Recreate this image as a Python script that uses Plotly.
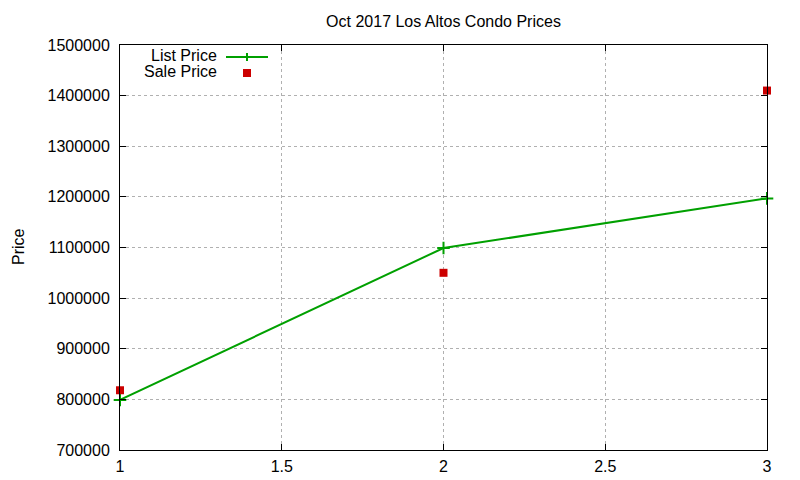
import plotly.graph_objects as go

# data
x_vals = [1, 2, 3]
list_price = [799000, 1099000, 1197000]
sale_price = [818000, 1050000, 1410000]

y_ticks = [700000, 800000, 900000, 1000000, 1100000, 1200000, 1300000, 1400000, 1500000]
x_ticks = [1, 1.5, 2, 2.5, 3]

green = "#00a000"
red = "#cc0000"
font = "Liberation Sans, Arial, sans-serif"

# page is offset by ~7px, so margins are shifted to compensate
L, T, PW, PH = 112, 37, 647, 405

fig = go.Figure()
fig.add_scatter(x=x_vals, y=list_price, mode="lines+markers", name="List Price",
                line=dict(color=green, width=2), cliponaxis=False,
                marker=dict(symbol="cross-thin", size=9, line=dict(color=green, width=2)))
fig.add_scatter(x=x_vals, y=sale_price, mode="markers", name="Sale Price", cliponaxis=False,
                marker=dict(symbol="square", size=8, color=red))

axis = dict(showline=True, mirror="ticks", linecolor="black", linewidth=1,
            ticks="inside", ticklen=6, tickcolor="black",
            showgrid=True, gridcolor="#b0b0b0", griddash="dot", gridwidth=1,
            zeroline=False, automargin=False, tickfont=dict(size=16, color="black"))

fig.update_layout(
    width=800, height=480,
    margin=dict(l=L, r=800 - L - PW, t=T, b=480 - T - PH),
    paper_bgcolor="white", plot_bgcolor="white",
    font=dict(family=font, size=16, color="black"),
    title=dict(text="Oct 2017 Los Altos Condo Prices", x=(L + PW / 2) / 800, xanchor="center",
               y=1 - 13 / 480, yanchor="middle", font=dict(size=16)),
    showlegend=False,
    xaxis=dict(axis, range=[1, 3], tickvals=x_ticks, ticktext=["1", "1.5", "2", "2.5", "3"],
               ticklabelstandoff=2),
    yaxis=dict(axis, range=[700000, 1500000], tickvals=y_ticks, tickformat="d",
               ticklabelstandoff=6),
)

# gnuplot-style key: text on the left, sample on the right
def px(x):
    return (x - 119) / PW


def py(y):
    return (449 - y) / PH


# y-axis label placed by hand
fig.add_annotation(text="Price", xref="paper", yref="paper", x=px(17), y=py(246),
                   textangle=-90, xanchor="center", yanchor="middle", showarrow=False,
                   font=dict(size=16))

fig.add_annotation(text="List Price", xref="paper", yref="paper", x=px(218), y=py(55),
                   xanchor="right", yanchor="middle", showarrow=False)
fig.add_annotation(text="Sale Price", xref="paper", yref="paper", x=px(218), y=py(71),
                   xanchor="right", yanchor="middle", showarrow=False)
fig.add_shape(type="line", xref="paper", yref="paper", x0=px(225), x1=px(267),
              y0=py(56), y1=py(56), line=dict(color=green, width=2))
fig.add_shape(type="line", xref="paper", yref="paper", x0=px(246), x1=px(246),
              y0=py(52), y1=py(60), line=dict(color=green, width=2))
fig.add_shape(type="rect", xref="paper", yref="paper", x0=px(242), x1=px(250),
              y0=py(68), y1=py(76), line=dict(width=0), fillcolor=red)

fig.write_html("out.html")
